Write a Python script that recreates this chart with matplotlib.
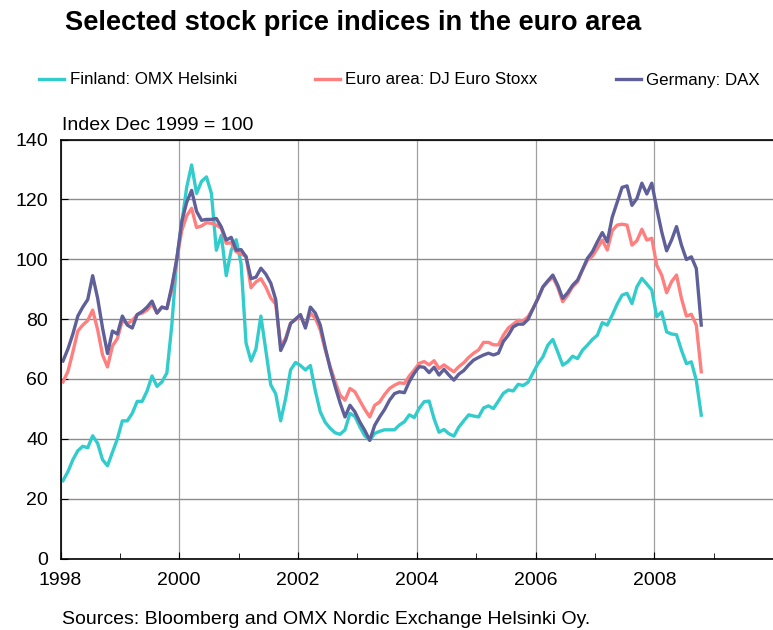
import numpy as np
import pandas as pd
import matplotlib
matplotlib.use("Agg")
import matplotlib.pyplot as plt
from matplotlib.ticker import MultipleLocator

plt.rcParams['font.family'] = ['Liberation Sans', 'DejaVu Sans']

# monthly data, Jan 1998 - Oct 2008, index Dec 1999 = 100
months = pd.period_range('1998-01', '2008-10', freq='M')

finland = [26, 29, 33, 36, 37.5, 37, 41, 38.5, 33, 31, 35.5, 40,
           46, 46, 48.5, 52.5, 52.5, 56, 61, 57.5, 59, 62, 78, 100,
           112, 124, 131.5, 122, 126, 127.5, 122, 103, 108, 94.5, 103, 106.5,
           98.5, 72, 66, 70, 81, 69.5, 58, 55, 46, 53.5, 63, 65.5,
           64.5, 63, 64.5, 56, 49, 45.5, 43.5, 42, 41.5, 43, 48.5, 47.5,
           44, 41, 39.5, 41.8, 42.5, 43, 43, 43, 44.6, 45.7, 48, 47.1,
           50.2, 52.4, 52.6, 46.7, 42.2, 43.1, 41.7, 40.9, 43.9, 46, 48, 47.6,
           47.3, 50.3, 51, 50.1, 52.6, 55.2, 56.3, 56, 58.2, 57.8, 58.9, 62,
           65.1, 67.4, 71.3, 73.2, 69, 64.6, 65.7, 67.6, 66.8, 69.6, 71.3, 73.2,
           74.6, 78.8, 78, 81.3, 85, 88, 88.6, 85.2, 90.8, 93.6, 91.7, 89.7,
           80.8, 82.4, 75.7, 75, 74.8, 69.6, 65.1, 65.7, 59.5, 47.9]

euro_stoxx = [59, 62.5, 69, 76, 78, 79.5, 83, 76.5, 68, 64, 71, 73.5,
              79.5, 78.5, 79.5, 81.5, 82, 83, 85, 82, 84, 83.5, 90, 100,
              109.5, 114.5, 117, 110.6, 111.1, 112.2, 112, 111.4, 110.3, 105.3, 105.5, 102.5,
              101.7, 101, 90.5, 92.4, 93.5, 90.7, 87, 85, 71, 73.6, 78.7, 79.8,
              81.1, 77.5, 82, 80.3, 76.4, 69.7, 64.1, 59.1, 54.6, 52.9, 56.8, 55.7,
              52.7, 49.8, 47.3, 51.2, 52.3, 54.8, 56.8, 57.9, 58.7, 58.5, 61, 63,
              65.2, 65.8, 64.7, 66.1, 63.5, 64.7, 63.5, 62.4, 64.1, 65.4, 67.2, 68.6,
              69.7, 72.2, 72.2, 71.4, 71.4, 74.6, 77, 78.3, 79.6, 79.4, 80.8, 83.5,
              86.9, 90.6, 92.5, 94, 90.6, 85.8, 88, 90.8, 92.5, 96.4, 99.7, 101,
              103.6, 106.4, 103.1, 109.5, 111.4, 111.7, 111.4, 104.7, 106.2, 110, 106.4, 107,
              98, 94.7, 88.8, 92.5, 94.7, 86.9, 81, 81.6, 78, 62.4]

dax = [66, 70, 75, 81, 84, 86.5, 94.5, 87, 77, 68.5, 76, 75,
       81, 78, 77, 81.5, 82.5, 84, 86, 82, 84, 83.5, 91, 100,
       112.5, 119, 123, 116, 113, 113.3, 113.3, 113.6, 110.8, 106.4, 107.3, 103,
       103.2, 100.8, 93.5, 94, 97, 95, 92, 86.5, 69.5, 73, 78.5, 80,
       81.5, 77, 84, 82, 78, 70.5, 63.5, 57.5, 52, 47.3, 51.2, 49,
       45.6, 42.8, 39.5, 44.5, 47.3, 49.8, 52.9, 55.1, 55.7, 55.4, 59.1, 61.9,
       64.1, 63.9, 62.1, 63.9, 61.3, 63.2, 61.3, 59.6, 61.6, 62.8, 64.7, 66.3,
       67.2, 68, 68.6, 68, 68.6, 72.5, 74.6, 77.4, 78.3, 78.3, 79.9, 83.5,
       86.9, 90.8, 92.8, 94.7, 91.3, 86.9, 88.8, 91.3, 93, 96.6, 100.3, 102.5,
       105.8, 108.9, 105.8, 114, 119, 124, 124.5, 118, 120.3, 125.4, 121.8, 125.4,
       117, 109.2, 102.8, 106.4, 110.9, 104.7, 99.9, 100.8, 96.9, 78]

x = months.year + (months.month - 0.5) / 12

fig = plt.figure(figsize=(7.73, 6.30), dpi=100)
ax = fig.add_axes([60.5/773, 1 - 558.5/630, (773 - 60.5)/773, (558.5 - 139.5)/630])

lw = 2.4
l1, = ax.plot(x, finland, color='#33CCCC', lw=lw, label='Finland: OMX Helsinki')
l2, = ax.plot(x, euro_stoxx, color='#FF7F7F', lw=lw, label='Euro area: DJ Euro Stoxx')
l3, = ax.plot(x, dax, color='#5F5F99', lw=lw, label='Germany: DAX')

ax.set_xlim(1998, 2010)
ax.set_ylim(0, 140)
ax.set_xticks(range(1998, 2010, 2))
ax.xaxis.set_minor_locator(MultipleLocator(1))
ax.set_yticks(range(0, 141, 20))
ax.grid(axis='y', color='#8c8c8c', lw=1)
ax.grid(axis='x', which='major', color='#a0a0a0', lw=0.9)
ax.set_axisbelow(True)

ax.tick_params(axis='both', which='both', direction='in', labelsize=14, color='black')
ax.tick_params(axis='y', length=5, pad=9)
ax.tick_params(axis='x', which='major', length=5, pad=10)
ax.tick_params(axis='x', which='minor', length=4)
for s in ['left', 'bottom', 'top']:
    ax.spines[s].set_color('black')
    ax.spines[s].set_linewidth(1.2)
ax.spines['right'].set_visible(False)

fig.text(65/773, 1 - 23/630, 'Selected stock price indices in the euro area',
         fontsize=19.6, fontweight='bold', ha='left', va='center')
fig.text(62/773, 1 - 125/630, 'Index Dec 1999 = 100', fontsize=14, ha='left', va='center')
fig.text(62/773, 1 - 620/630, 'Sources: Bloomberg and OMX Nordic Exchange Helsinki Oy.',
         fontsize=14, ha='left', va='center')

fig.legend(handles=[l1, l2, l3], ncol=3, loc='center left',
           bbox_to_anchor=(39/773, 1 - 80/630), frameon=False, fontsize=12.2,
           handlelength=1.5, handletextpad=0.3, columnspacing=4.6,
           borderpad=0, borderaxespad=0)

fig.savefig('out.png', dpi=100)
